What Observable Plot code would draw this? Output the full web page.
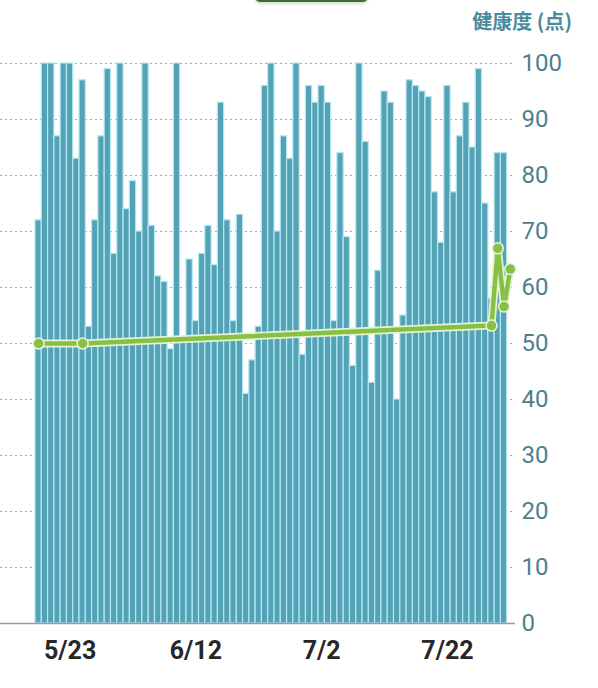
<!DOCTYPE html>
<html><head><meta charset="utf-8">
<script src="https://cdn.jsdelivr.net/npm/d3@7"></script>
<script src="https://cdn.jsdelivr.net/npm/@observablehq/plot@0.6"></script>
<style>
body{margin:0;background:#fff;}
#wrap{position:relative;width:598px;height:688px;overflow:hidden;background:#fff;}
#title{position:absolute;top:6px;left:430px;width:142px;text-align:right;font-family:"Noto Sans CJK JP";font-weight:bold;font-size:20px;color:#4a8b9d;white-space:nowrap;}
#tab{position:absolute;top:-8px;left:255px;width:113px;height:10px;border-radius:6px;background:#3e6c35;box-shadow:0 2px 3px rgba(120,160,100,0.3);}
#chart{position:absolute;top:0;left:0;}
</style></head><body>
<div id="wrap"><div id="tab"></div><div id="title">健康度 (点)</div><div id="chart"></div></div>
<script>
const startDate = "2024-05-18";
const endDate = "2024-08-02";
const healthScores = [
  72,100,100,87,100,100,83,97,53,72,
  87,99,66,100,74,79,70,100,71,62,
  61,49,100,51,65,54,66,71,64,93,
  72,54,73,41,47,53,96,100,70,87,
  83,100,48,96,93,96,93,54,84,69,
  46,100,86,43,63,95,93,40,55,97,
  96,95,94,77,68,96,77,87,93,85,
  99,75,58,84,84
];
const trendDates = ["2024-05-18","2024-05-25","2024-07-29","2024-07-30","2024-07-31","2024-08-01"];
const trendScores = [50,50,53.2,67,56.6,63.3];
const xTickDates = ["2024-05-23","2024-06-12","2024-07-02","2024-07-22"];
const yTicks = [0,10,20,30,40,50,60,70,80,90,100];

const start = new Date(startDate + "T00:00:00Z");
const end = new Date(endDate + "T00:00:00Z");
const noon = s => d3.utcHour.offset(new Date(s + "T00:00:00Z"), 12);

const bars = healthScores.map((v, i) => ({date: d3.utcDay.offset(start, i), value: v}));
const trend = trendDates.map((d, i) => ({date: noon(d), value: trendScores[i]}));
const xTicks = xTickDates.map(noon);

const fmt = d => `${d.getUTCMonth() + 1}/${d.getUTCDate()}`;

const chart = Plot.plot({
  width: 598,
  height: 688,
  marginTop: 63,
  marginBottom: 65,
  marginLeft: 0,
  marginRight: 83,
  style: {fontFamily: "Roboto", background: "transparent"},
  x: {type: "utc", domain: [start, end], insetLeft: 35, insetRight: 2},
  y: {domain: [0, 100]},
  marks: [
    Plot.ruleY(yTicks.filter(v => v > 0), {stroke: "#a8a8a8", strokeDasharray: "2,3", strokeWidth: 1.2}),
    Plot.rectY(bars, {
      x1: d => d.date,
      x2: d => d3.utcDay.offset(d.date, 1),
      y: "value",
      fill: "#54a2b6",
      stroke: "#b4e7f2",
      strokeWidth: 1.2
    }),
    Plot.ruleY([0], {stroke: "#8e9ea4", strokeWidth: 1.6}),
    Plot.line(trend, {x: "date", y: "value", stroke: "#e4f3d0", strokeWidth: 8, strokeLinejoin: "round"}),
    Plot.line(trend, {x: "date", y: "value", stroke: "#88c046", strokeWidth: 4.5, strokeLinejoin: "round"}),
    Plot.dot(trend, {x: "date", y: "value", r: 5.5, fill: "#88c046", stroke: "#e8f5d8", strokeWidth: 1.5}),
    Plot.axisY(yTicks, {anchor: "right", tickSize: 0, tickPadding: 6, fontSize: 24, fill: "#4f7f8c", textAnchor: "start", label: null}),
    Plot.axisX(xTicks, {anchor: "bottom", tickSize: 0, tickPadding: 18, tickFormat: fmt, fontSize: 25, fontWeight: "bold", fill: "#272727", label: null})
  ]
});
document.getElementById("chart").appendChild(chart);
</script>
</body></html>
